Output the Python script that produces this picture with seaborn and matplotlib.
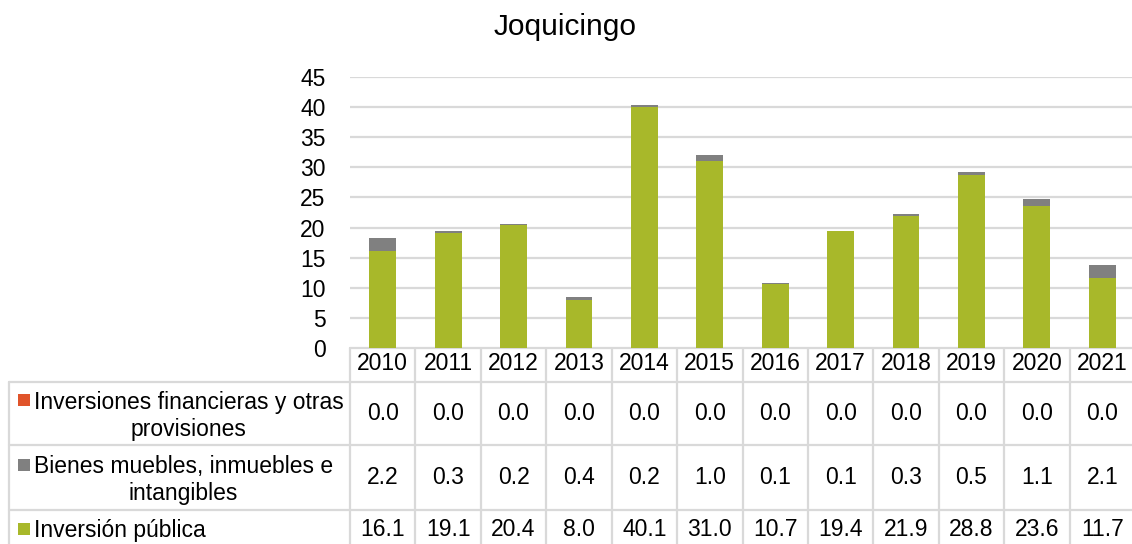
import numpy as np
import pandas as pd
import matplotlib
matplotlib.use('Agg')
import matplotlib.pyplot as plt
import seaborn as sns
from matplotlib.patches import Rectangle

# datos (millones de pesos)
years = ['2010', '2011', '2012', '2013', '2014', '2015',
         '2016', '2017', '2018', '2019', '2020', '2021']
inversiones_financieras = [0.0, 0.0, 0.0, 0.0, 0.0, 0.0, 0.0, 0.0, 0.0, 0.0, 0.0, 0.0]
bienes_muebles = [2.2, 0.3, 0.2, 0.4, 0.2, 1.0, 0.1, 0.1, 0.3, 0.5, 1.1, 2.1]
inversion_publica = [16.1, 19.1, 20.4, 8.0, 40.1, 31.0, 10.7, 19.4, 21.9, 28.8, 23.6, 11.7]

series_labels = ['Inversiones financieras y otras\nprovisiones',
                 'Bienes muebles, inmuebles e\nintangibles',
                 'Inversión pública']
series_colors = ['#E0542A', '#808080', '#A8B82A']
yticks = [0, 5, 10, 15, 20, 25, 30, 35, 40, 45]
title = 'Joquicingo'

sns.set_style('white')
plt.rcParams['font.family'] = ['Liberation Sans', 'DejaVu Sans']
plt.rcParams['text.color'] = 'black'
plt.rcParams['ytick.color'] = 'black'

W, H = 1132, 544
fig = plt.figure(figsize=(W / 100, H / 100), dpi=100)

# layout in pixels
left_px, right_px = 350, 1135
top_px, base_px = 77, 348
table_rows = [348, 382, 445, 510, 548]
label_left = 9
grid_c = '#D9D9D9'

ax = fig.add_axes([left_px / W, 1 - base_px / H,
                   (right_px - left_px) / W, (base_px - top_px) / H])

df = pd.DataFrame({'year': years,
                   'fin': inversiones_financieras,
                   'bienes': bienes_muebles,
                   'pub': inversion_publica})
df['top_bienes'] = df['pub'] + df['bienes']
df['top_fin'] = df['top_bienes'] + df['fin']

# stacked bars: draw cumulative totals back to front
for col, c in [('top_fin', series_colors[0]), ('top_bienes', series_colors[1]),
               ('pub', series_colors[2])]:
    sns.barplot(data=df, x='year', y=col, color=c, saturation=1, width=0.41,
                errorbar=None, ax=ax, zorder=3, linewidth=0)

ax.set_xlim(-0.5, len(years) - 0.5)
ax.set_ylim(0, 45)
ax.set_yticks(yticks)
ax.set_xticks([])
ax.set_xlabel('')
ax.set_ylabel('')
ax.yaxis.grid(True, color=grid_c, lw=1.6)
ax.set_axisbelow(True)
for s in ax.spines.values():
    s.set_visible(False)
ax.tick_params(axis='y', left=False, labelsize=16.5, pad=14, labelcolor='black')

# data table drawn in pixel coords
tax = fig.add_axes([0, 0, 1, 1], zorder=-1)
tax.set_xlim(0, W)
tax.set_ylim(H, 0)
tax.axis('off')

n = len(years)
colw = (right_px - left_px) / n
col_edges = [left_px + i * colw for i in range(n + 1)]
lw = 1.6

# top line of header
tax.plot([left_px, right_px], [table_rows[0], table_rows[0]], color=grid_c, lw=lw)
# horizontal row lines incl. label column
for yy in table_rows[1:-1]:
    tax.plot([label_left, right_px], [yy, yy], color=grid_c, lw=lw)
tax.plot([label_left, label_left], [table_rows[1], H + 5], color=grid_c, lw=lw)
for xx in col_edges:
    tax.plot([xx, xx], [table_rows[0], H + 5], color=grid_c, lw=lw)

fs = 16.5
for i, yr in enumerate(years):
    cx = col_edges[i] + colw / 2
    tax.text(cx, 364, yr, ha='center', va='center', fontsize=fs)

row_vals = [inversiones_financieras, bienes_muebles, inversion_publica]
row_centers = [414, 478, 530]
label_centers = [416, 480, 531]
square_tops = [394, 459, 523]
for r in range(3):
    for i, v in enumerate(row_vals[r]):
        cx = col_edges[i] + colw / 2
        tax.text(cx, row_centers[r], f'{v:.1f}', ha='center', va='center', fontsize=fs)
    tax.add_patch(Rectangle((18, square_tops[r]), 12, 12, color=series_colors[r], lw=0))
    tax.text(34, label_centers[r], series_labels[r], ha='left', va='center',
             multialignment='center', fontsize=fs)

fig.text(565 / W, 1 - 27 / H, title, ha='center', va='center', fontsize=21.5)

fig.savefig('out.png', dpi=100)
